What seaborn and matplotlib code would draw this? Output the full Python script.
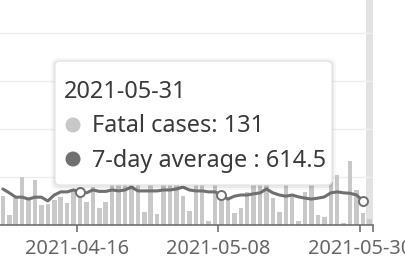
import numpy as np
import pandas as pd
import matplotlib
matplotlib.use("Agg")
import matplotlib.pyplot as plt
from matplotlib.patches import FancyBboxPatch, Circle
from matplotlib.transforms import Affine2D
import seaborn as sns

# ---------------- data ----------------
dates = pd.date_range("2021-04-04", "2021-05-31", freq="D").strftime("%Y-%m-%d").tolist()

fatal_cases = [600, 210, 560, 1000, 520, 940, 420, 440, 520, 580, 460, 730,
               730, 480, 790, 350, 480, 1200, 1100, 1300, 1150, 1250, 270, 1200,
               230, 1100, 1300, 1200, 600, 290, 1200, 1100, 80, 1150, 670, 560,
               250, 360, 690, 1200, 1100, 1250, 560, 280, 1150, 620, 90, 690,
               1100, 210, 170, 900, 1040, 40, 1330, 730, 250, 131]

seven_day_avg = [750, 670, 580, 580, 540, 580, 580, 500, 625, 690, 690, 730,
                 690, 670, 730, 700, 700, 730, 710, 730, 790, 710, 710, 710,
                 710, 730, 730, 750, 790, 730, 710, 710, 690, 690, 625, 540,
                 600, 625, 625, 650, 670, 750, 670, 625, 600, 625, 585, 560,
                 540, 560, 585, 670, 690, 670, 660, 625, 500, np.nan]

marker_dates = ["2021-04-16", "2021-05-08", "2021-05-30"]
tick_labels = ["2021-04-16", "2021-05-08", "2021-05-30"]

tooltip_date = "2021-05-31"
tooltip_fatal = 131
tooltip_avg = 614.5

# ---------------- style ----------------
sns.set_style("white")
plt.rcParams["font.family"] = ["Noto Sans", "DejaVu Sans"]

W, H = 405, 271
fig = plt.figure(figsize=(W / 100, H / 100), dpi=100)
px = Affine2D().scale(1 / W, 1 / H) + fig.transFigure

# axes placed so that the left part of the chart is cut off like the reference
ax = fig.add_axes([-3.6 / W, 46 / H, 376.2 / W, 225 / H])

n = len(dates)
idx = np.arange(n)
df = pd.DataFrame({"date": dates, "fatal": fatal_cases, "avg": seven_day_avg, "i": idx})

hover_i = dates.index(tooltip_date)
ax.axvspan(hover_i - 0.5, hover_i + 0.5, color="#e2e2e2", zorder=0, lw=0)

sns.barplot(data=df, x="date", y="fatal", color="#c8c8c8", saturation=1,
            width=0.7, ax=ax, zorder=2, linewidth=0)
sns.lineplot(data=df.dropna(), x="i", y="avg", color="#707070", lw=2.2, ax=ax,
             zorder=3, estimator=None)
mk = df[df["date"].isin(marker_dates)]
sns.scatterplot(data=mk, x="i", y="avg", s=42, facecolor="white",
                edgecolor="#707070", linewidth=1.4, ax=ax, zorder=4)

ax.set_xlim(-1, n - 0.5)
ax.set_ylim(0, 4687.5)
ax.set_yticks([1000, 2000, 3000, 4000])
ax.yaxis.grid(True, color="#eeeeee", lw=1.0)
ax.set_axisbelow(True)
ax.tick_params(axis="y", left=False, labelleft=False)

tick_pos = [dates.index(d) - 0.5 for d in tick_labels] + [n - 0.5]
ax.set_xticks(tick_pos)
ax.set_xticklabels(tick_labels + [""])
ax.tick_params(axis="x", bottom=True, length=5, width=1.1, color="#666666",
               labelsize=14.4, labelcolor="#666666", pad=5)
ax.set_xlabel("")
ax.set_ylabel("")
for s in ["top", "right", "left"]:
    ax.spines[s].set_visible(False)
ax.spines["bottom"].set_color("#666666")
ax.spines["bottom"].set_linewidth(1.1)
if ax.get_legend():
    ax.get_legend().remove()

# ---------------- tooltip ----------------
for k, a in [(4, 0.03), (2, 0.05)]:
    fig.patches.append(FancyBboxPatch((55 - k, 86 - k - 1), 277 + 2 * k, 124 + 2 * k,
                                      boxstyle="round,pad=0,rounding_size=6",
                                      transform=px, facecolor="black", alpha=a,
                                      edgecolor="none", zorder=9))
fig.patches.append(FancyBboxPatch((55, 86), 277, 124,
                                  boxstyle="round,pad=0,rounding_size=5",
                                  transform=px, facecolor="white",
                                  edgecolor="#e2e2e2", lw=0.8, zorder=10))
tc = "#3a3a3a"
fs = 16.9
fig.text(64, 173, tooltip_date, transform=px, fontsize=fs, color=tc,
         va="baseline", ha="left", zorder=11)
fig.patches.append(Circle((73, 146), 7.5, transform=px, facecolor="#c8c8c8",
                          edgecolor="none", zorder=11))
fig.text(92, 139, f"Fatal cases: {tooltip_fatal}", transform=px, fontsize=fs,
         color=tc, va="baseline", ha="left", zorder=11)
fig.patches.append(Circle((73, 112), 7.5, transform=px, facecolor="#707070",
                          edgecolor="none", zorder=11))
fig.text(92, 104, f"7-day average : {tooltip_avg}", transform=px, fontsize=fs,
         color=tc, va="baseline", ha="left", zorder=11)

fig.savefig("out.png", dpi=100)
